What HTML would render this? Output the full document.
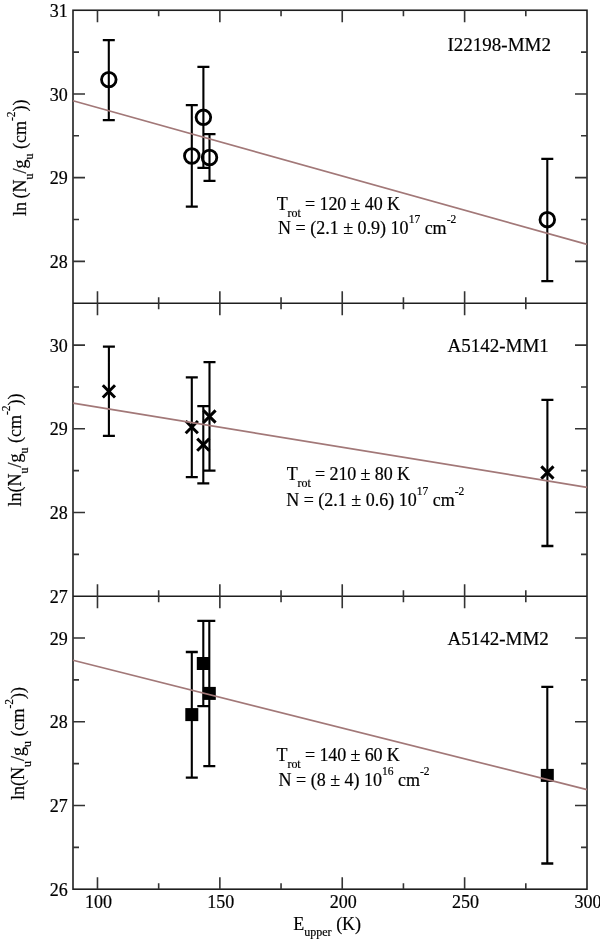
<!DOCTYPE html>
<html><head><meta charset="utf-8"><style>
html,body{margin:0;padding:0;background:#fff;}
body{width:600px;height:939px;overflow:hidden;}
svg{display:block;will-change:transform;}
text{font-family:"Liberation Serif", serif;fill:#000;stroke:#000;stroke-width:0.2px;}
</style></head><body>
<svg width="600" height="939" viewBox="0 0 600 939">
<rect x="73.0" y="10.25" width="514.0" height="878.94" fill="none" stroke="#1e1e1e" stroke-width="1.6"/>
<line x1="73.0" y1="303.23" x2="587.0" y2="303.23" stroke="#1e1e1e" stroke-width="1.6"/>
<line x1="73.0" y1="596.21" x2="587.0" y2="596.21" stroke="#1e1e1e" stroke-width="1.6"/>
<path d="M97.48 303.23V291.23M97.48 10.25V22.25M158.67 303.23V297.23M158.67 10.25V16.25M219.86 303.23V291.23M219.86 10.25V22.25M281.05 303.23V297.23M281.05 10.25V16.25M342.24 303.23V291.23M342.24 10.25V22.25M403.43 303.23V297.23M403.43 10.25V16.25M464.62 303.23V291.23M464.62 10.25V22.25M525.81 303.23V297.23M525.81 10.25V16.25M73.0 52.10H79.0M587.0 52.10H581.0M73.0 93.96H85.0M587.0 93.96H575.0M73.0 135.81H79.0M587.0 135.81H581.0M73.0 177.67H85.0M587.0 177.67H575.0M73.0 219.52H79.0M587.0 219.52H581.0M73.0 261.38H85.0M587.0 261.38H575.0M97.48 596.21V584.21M97.48 303.23V315.23M158.67 596.21V590.21M158.67 303.23V309.23M219.86 596.21V584.21M219.86 303.23V315.23M281.05 596.21V590.21M281.05 303.23V309.23M342.24 596.21V584.21M342.24 303.23V315.23M403.43 596.21V590.21M403.43 303.23V309.23M464.62 596.21V584.21M464.62 303.23V315.23M525.81 596.21V590.21M525.81 303.23V309.23M73.0 345.08H85.0M587.0 345.08H575.0M73.0 386.94H79.0M587.0 386.94H581.0M73.0 428.79H85.0M587.0 428.79H575.0M73.0 470.65H79.0M587.0 470.65H581.0M73.0 512.50H85.0M587.0 512.50H575.0M73.0 554.36H79.0M587.0 554.36H581.0M97.48 889.19V877.19M97.48 596.21V608.21M158.67 889.19V883.19M158.67 596.21V602.21M219.86 889.19V877.19M219.86 596.21V608.21M281.05 889.19V883.19M281.05 596.21V602.21M342.24 889.19V877.19M342.24 596.21V608.21M403.43 889.19V883.19M403.43 596.21V602.21M464.62 889.19V877.19M464.62 596.21V608.21M525.81 889.19V883.19M525.81 596.21V602.21M73.0 638.06H85.0M587.0 638.06H575.0M73.0 679.92H79.0M587.0 679.92H581.0M73.0 721.77H85.0M587.0 721.77H575.0M73.0 763.63H79.0M587.0 763.63H581.0M73.0 805.48H85.0M587.0 805.48H575.0M73.0 847.34H79.0M587.0 847.34H581.0" stroke="#333" stroke-width="1.6" fill="none"/>
<path d="M108.8 40.1V120.1M191.8 105.2V206.7M203.4 66.9V167.8M209.5 134.2V180.8M547.3 158.9V281.1M108.9 346.6V435.9M191.8 377.4V477.1M203.3 406.1V483.4M209.5 362.2V470.7M547.4 399.8V546.0M191.8 652.0V777.6M203.3 620.8V706.2M209.3 620.8V766.2M547.3 686.8V863.5" stroke="#000" stroke-width="2.1" fill="none"/>
<path d="M102.8 40.1H114.8M102.8 120.1H114.8M185.8 105.2H197.8M185.8 206.7H197.8M197.4 66.9H209.4M197.4 167.8H209.4M203.5 134.2H215.5M203.5 180.8H215.5M541.3 158.9H553.3M541.3 281.1H553.3M102.9 346.6H114.9M102.9 435.9H114.9M185.8 377.4H197.8M185.8 477.1H197.8M197.3 406.1H209.3M197.3 483.4H209.3M203.5 362.2H215.5M203.5 470.7H215.5M541.4 399.8H553.4M541.4 546.0H553.4M185.8 652.0H197.8M185.8 777.6H197.8M197.3 620.8H209.3M197.3 706.2H209.3M203.3 620.8H215.3M203.3 766.2H215.3M541.3 686.8H553.3M541.3 863.5H553.3" stroke="#000" stroke-width="2.3" fill="none"/>
<circle cx="108.8" cy="79.6" r="7.3" fill="none" stroke="#000" stroke-width="2.8"/>
<circle cx="191.8" cy="156.0" r="7.3" fill="none" stroke="#000" stroke-width="2.8"/>
<circle cx="203.4" cy="117.3" r="7.3" fill="none" stroke="#000" stroke-width="2.8"/>
<circle cx="209.5" cy="157.5" r="7.3" fill="none" stroke="#000" stroke-width="2.8"/>
<circle cx="547.3" cy="219.7" r="7.3" fill="none" stroke="#000" stroke-width="2.8"/>
<path d="M102.80000000000001 385.29999999999995L115.0 397.5M102.80000000000001 397.5L115.0 385.29999999999995M185.70000000000002 421.0L197.9 433.20000000000005M185.70000000000002 433.20000000000005L197.9 421.0M197.20000000000002 438.59999999999997L209.4 450.8M197.20000000000002 450.8L209.4 438.59999999999997M203.4 410.4L215.6 422.6M203.4 422.6L215.6 410.4M541.3 466.4L553.5 478.6M541.3 478.6L553.5 466.4" stroke="#000" stroke-width="3.0" fill="none"/>
<rect x="185.3" y="708.1" width="13.0" height="13.0" fill="#000"/>
<rect x="196.8" y="657.0" width="13.0" height="13.0" fill="#000"/>
<rect x="202.8" y="686.9" width="13.0" height="13.0" fill="#000"/>
<rect x="540.8" y="768.9" width="13.0" height="13.0" fill="#000"/>
<line x1="73.0" y1="100.7" x2="587.0" y2="244.4" stroke="#a27878" stroke-width="1.7"/>
<line x1="73.0" y1="403.2" x2="587.0" y2="487.3" stroke="#a27878" stroke-width="1.7"/>
<line x1="73.0" y1="660.2" x2="587.0" y2="789.6" stroke="#a27878" stroke-width="1.7"/>
<text x="67.8" y="16.95" text-anchor="end" font-size="18" >31</text>
<text x="67.8" y="100.65857142857143" text-anchor="end" font-size="18" >30</text>
<text x="67.8" y="184.36714285714285" text-anchor="end" font-size="18" >29</text>
<text x="67.8" y="268.0757142857143" text-anchor="end" font-size="18" >28</text>
<text x="67.8" y="351.7842857142857" text-anchor="end" font-size="18" >30</text>
<text x="67.8" y="435.4928571428572" text-anchor="end" font-size="18" >29</text>
<text x="67.8" y="519.2014285714287" text-anchor="end" font-size="18" >28</text>
<text x="67.8" y="602.9100000000001" text-anchor="end" font-size="18" >27</text>
<text x="67.8" y="644.7642857142858" text-anchor="end" font-size="18" >29</text>
<text x="67.8" y="728.4728571428573" text-anchor="end" font-size="18" >28</text>
<text x="67.8" y="812.1814285714287" text-anchor="end" font-size="18" >27</text>
<text x="67.8" y="895.8900000000001" text-anchor="end" font-size="18" >26</text>
<text x="98.47619047619048" y="908.0" text-anchor="middle" font-size="18" >100</text>
<text x="220.85714285714286" y="908.0" text-anchor="middle" font-size="18" >150</text>
<text x="343.23809523809524" y="908.0" text-anchor="middle" font-size="18" >200</text>
<text x="465.6190476190476" y="908.0" text-anchor="middle" font-size="18" >250</text>
<text x="588.0" y="908.0" text-anchor="middle" font-size="18" >300</text>
<text x="447.5" y="51.3" text-anchor="start" font-size="19" >I22198-MM2</text>
<text x="447.5" y="351.6" text-anchor="start" font-size="19" >A5142-MM1</text>
<text x="447.5" y="645.0" text-anchor="start" font-size="19" >A5142-MM2</text>
<text x="276.7" y="209.6" font-size="18" letter-spacing="-0.1">T<tspan font-size="12" dy="6.9">rot</tspan><tspan dy="-6.9"> = 120 ± 40 K</tspan></text>
<text x="278.1" y="234.4" font-size="18">N = (2.1 ± 0.9) 10<tspan font-size="11.5" dy="-11.3">17</tspan><tspan dy="11.3"> cm</tspan><tspan font-size="11.5" dy="-11">-2</tspan></text>
<text x="286.7" y="479.8" font-size="18" letter-spacing="-0.1">T<tspan font-size="12" dy="6.9">rot</tspan><tspan dy="-6.9"> = 210 ± 80 K</tspan></text>
<text x="286.2" y="506.0" font-size="18">N = (2.1 ± 0.6) 10<tspan font-size="11.5" dy="-11.3">17</tspan><tspan dy="11.3"> cm</tspan><tspan font-size="11.5" dy="-11">-2</tspan></text>
<text x="276.6" y="761.0" font-size="18" letter-spacing="-0.1">T<tspan font-size="12" dy="6.9">rot</tspan><tspan dy="-6.9"> = 140 ± 60 K</tspan></text>
<text x="278.5" y="786.3" font-size="18">N = (8 ± 4) 10<tspan font-size="11.5" dy="-11.3">16</tspan><tspan dy="11.3"> cm</tspan><tspan font-size="11.5" dy="-11">-2</tspan></text>
<text transform="translate(26.3,216.0) rotate(-90)" x="0" y="0" font-size="18">ln<tspan dx="-1"> </tspan>(N<tspan font-size="12" dy="7">u</tspan><tspan dy="-7">/g</tspan><tspan font-size="12" dy="7">u</tspan><tspan dy="-7"> (cm</tspan><tspan font-size="11.5" dy="-11">-2</tspan><tspan dy="11">))</tspan></text>
<text transform="translate(21.3,506.6) rotate(-90)" x="0" y="0" font-size="18">ln(N<tspan font-size="12" dy="7">u</tspan><tspan dy="-7">/g</tspan><tspan font-size="12" dy="7">u</tspan><tspan dy="-7"> (cm</tspan><tspan font-size="11.5" dy="-11">-2</tspan><tspan dy="11">))</tspan></text>
<text transform="translate(23.6,800.1) rotate(-90)" x="0" y="0" font-size="18">ln(N<tspan font-size="12" dy="7">u</tspan><tspan dy="-7">/g</tspan><tspan font-size="12" dy="7">u</tspan><tspan dy="-7"> (cm</tspan><tspan font-size="11.5" dy="-11">-2</tspan><tspan dy="11">))</tspan></text>
<text x="293.3" y="929.9" font-size="18">E<tspan font-size="12" dy="6.5">upper</tspan><tspan dy="-6.5"> (K)</tspan></text>
</svg>
</body></html>
